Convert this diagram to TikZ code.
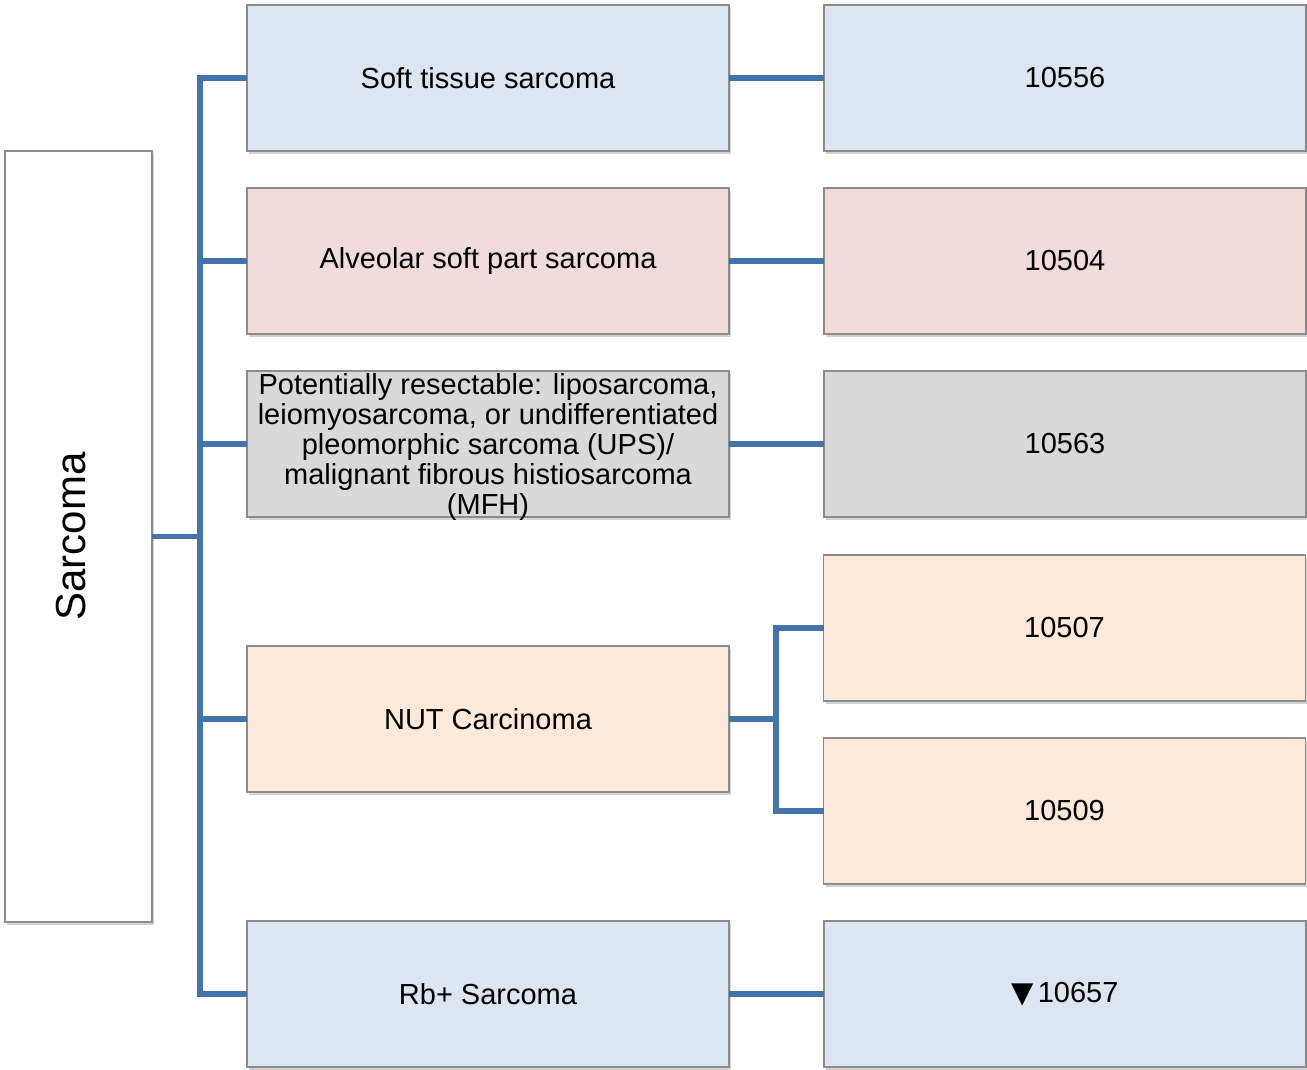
\documentclass[tikz,border=0pt]{standalone}
\usepackage{fontspec}
\setmainfont{Liberation Sans}
\newfontfamily\symfont{DejaVu Sans}
\usetikzlibrary{positioning,shadows}

\definecolor{linkblue}{RGB}{68,114,170}
\definecolor{boxedge}{RGB}{140,140,140}
\definecolor{fillblue}{RGB}{220,230,242}
\definecolor{fillpink}{RGB}{242,220,219}
\definecolor{fillgray}{RGB}{217,217,217}
\definecolor{fillpeach}{RGB}{252,233,217}

\begin{document}
\begin{tikzpicture}[
  x=0.5pt, y=-0.5pt,
  cell/.style={draw=boxedge, line width=0.6pt, minimum width=241pt, minimum height=73pt,
    outer sep=0pt, align=center, inner sep=1pt, font=\fontsize{14.5}{15}\selectfont,
    drop shadow={shadow xshift=1pt, shadow yshift=-1.5pt, opacity=0.35}},
  root/.style={cell, fill=white, minimum width=73.5pt, minimum height=385.5pt},
  conn/.style={draw=linkblue, line width=2.6pt}
]
\useasboundingbox (0,0) rectangle (1307,1070);

% left box
\node[root] (sarc) at (78.5,536.5) {};
\node[rotate=90, font=\fontsize{21}{24}\selectfont] (sarclab) at ([xshift=-3.5pt]sarc.center) {Sarcoma};

% middle column
\node[cell, fill=fillblue] (soft) at (488,78) {Soft tissue sarcoma};
\node[cell, fill=fillpink, below=18.5pt of soft] (alv) {Alveolar soft part sarcoma};
\node[cell, fill=fillgray, below=18.5pt of alv] (pot) {};
\node[align=center, inner sep=0pt, font=\fontsize{14.5}{15}\selectfont] (pottext) at ([yshift=-1.5pt]pot.center)
  {Potentially resectable: liposarcoma,\\leiomyosarcoma, or undifferentiated\\pleomorphic sarcoma (UPS)/\\malignant fibrous histiosarcoma\\(MFH)};
\node[cell, fill=fillpeach, below=64.5pt of pot] (nut) {NUT Carcinoma};
\node[cell, fill=fillblue, below=64.5pt of nut] (rb) {Rb+ Sarcoma};

% right column
\node[cell, fill=fillblue, right=47.5pt of soft] (n10556) {10556};
\node[cell, fill=fillpink, right=47.5pt of alv] (n10504) {10504};
\node[cell, fill=fillgray, right=47.5pt of pot] (n10563) {10563};
\node[cell, fill=fillpeach] (n10507) at (1064.5,628) {10507};
\node[cell, fill=fillpeach] (n10509) at (1064.5,811) {10509};
\node[cell, fill=fillblue, right=47.5pt of rb] (n10657) {{\symfont ▼}\kern2pt10657};

% connectors
\draw[conn] (sarc.east) -- ++(24pt,0) coordinate (trunk);
\foreach \m in {soft,alv,pot,nut,rb}
  \draw[conn] (trunk) |- (\m.west);
\foreach \a/\b in {soft/n10556,alv/n10504,pot/n10563,rb/n10657}
  \draw[conn] (\a.east) -- (\b.west);
\draw[conn] (nut.east) -- ++(23.5pt,0) coordinate (fork);
\draw[conn] (fork) |- (n10507.west);
\draw[conn] (fork) |- (n10509.west);
\end{tikzpicture}
\end{document}
